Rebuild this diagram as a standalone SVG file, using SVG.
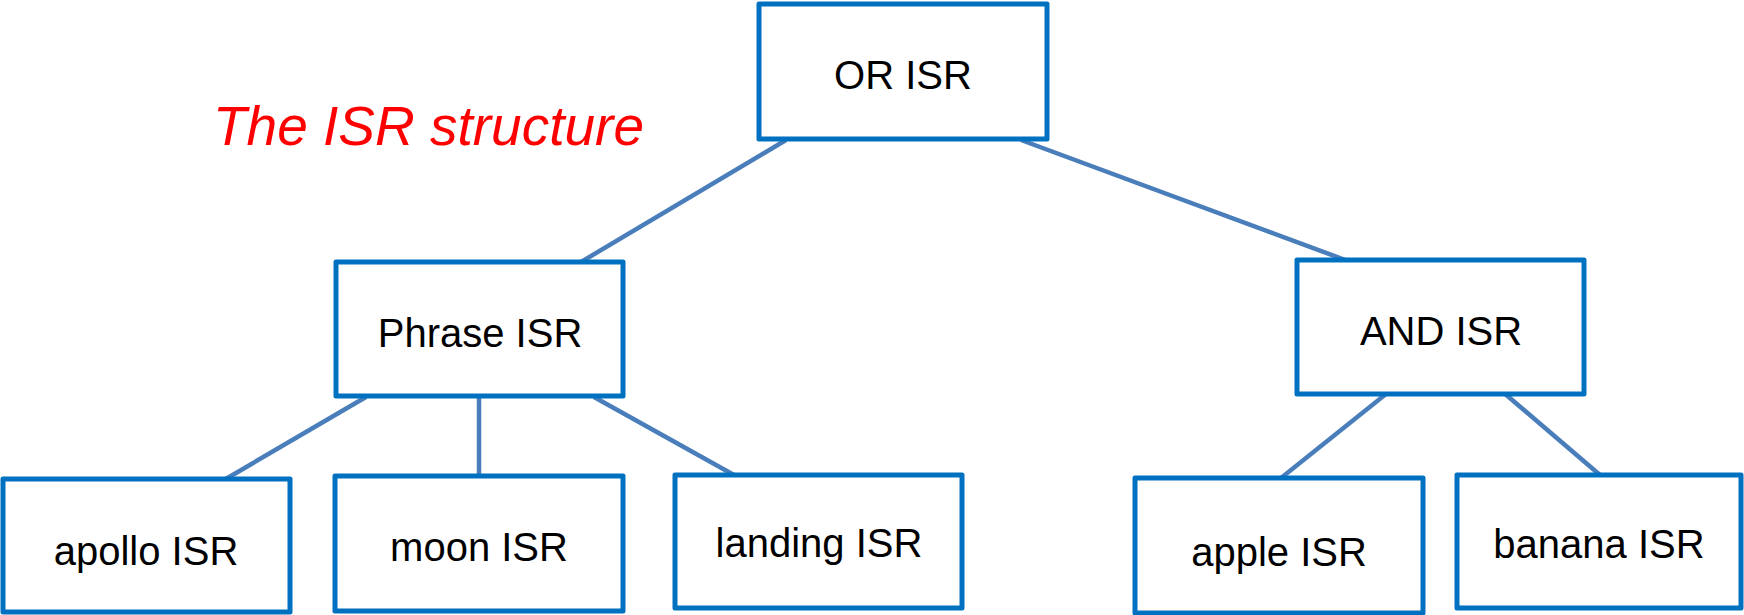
<svg xmlns="http://www.w3.org/2000/svg" width="1744" height="615" viewBox="0 0 1744 615">
<style>
.box{fill:#fff;stroke:#0070C0;stroke-width:5;stroke-linejoin:round}
.lbl{font-family:"Liberation Sans",Arial,sans-serif;font-size:40px;fill:#000;text-anchor:middle}
.edge{stroke:#4A7EBB;stroke-width:4.5;fill:none}
.title{font-family:"Liberation Sans",Arial,sans-serif;font-size:55px;font-style:italic;fill:#FF0000}
</style>
<rect width="1744" height="615" fill="#fff"/>
<text class="title" x="213" y="145">The ISR structure</text>
<g id="connectors">
<line class="edge" x1="786" y1="140" x2="581" y2="262"/>
<line class="edge" x1="1021" y1="140" x2="1348" y2="261"/>
<line class="edge" x1="366" y1="397" x2="224" y2="480"/>
<line class="edge" x1="479" y1="397" x2="479" y2="475"/>
<line class="edge" x1="594" y1="397" x2="734" y2="475"/>
<line class="edge" x1="1386" y1="394" x2="1281" y2="478"/>
<line class="edge" x1="1504" y1="393" x2="1600" y2="475"/>
</g>
<g id="or"><rect class="box" x="759" y="4" width="288" height="135"/><text class="lbl" x="903" y="89">OR ISR</text></g>
<g id="phrase"><rect class="box" x="336" y="262" width="287" height="134"/><text class="lbl" x="480" y="347">Phrase ISR</text></g>
<g id="and"><rect class="box" x="1297" y="260" width="287" height="134"/><text class="lbl" x="1441" y="345">AND ISR</text></g>
<g id="apollo"><rect class="box" x="3" y="479" width="287" height="133"/><text class="lbl" x="146" y="565">apollo ISR</text></g>
<g id="moon"><rect class="box" x="335" y="476" width="288" height="135"/><text class="lbl" x="479" y="561">moon ISR</text></g>
<g id="landing"><rect class="box" x="675" y="475" width="287" height="133"/><text class="lbl" x="819" y="557">landing ISR</text></g>
<g id="apple"><rect class="box" x="1135" y="478" width="288" height="135"/><text class="lbl" x="1279" y="566">apple ISR</text></g>
<g id="banana"><rect class="box" x="1457" y="475" width="284" height="133"/><text class="lbl" x="1599" y="558">banana ISR</text></g>
</svg>
